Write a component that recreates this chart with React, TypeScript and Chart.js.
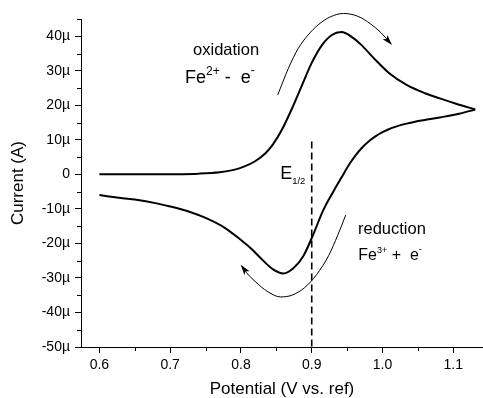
import { useEffect, useRef } from 'react';
import { Chart, registerables } from 'chart.js';

Chart.register(...registerables);

const FONT = '"Liberation Sans", Arial, Helvetica, sans-serif';

// Forward (oxidation) scan: potential (V) and current (µA)
const forwardPotential = [0.6, 0.65, 0.7, 0.74, 0.77, 0.79, 0.805, 0.82, 0.835, 0.845, 0.858, 0.872, 0.886, 0.9, 0.914, 0.928, 0.942, 0.956, 0.97, 0.987, 1.01, 1.034, 1.06, 1.081, 1.105, 1.131];
const forwardCurrent = [0, 0, 0.05, 0.2, 0.6, 1.3, 2.3, 3.8, 6.2, 8.6, 13.0, 19.0, 25.7, 32.3, 37.3, 40.3, 41.2, 39.9, 37.5, 33.8, 29.2, 25.9, 23.5, 22.0, 20.4, 18.8];

// Reverse (reduction) scan
const reversePotential = [1.131, 1.105, 1.081, 1.055, 1.034, 1.02, 1.008, 0.998, 0.99, 0.982, 0.97, 0.962, 0.954, 0.942, 0.931, 0.916, 0.902, 0.888, 0.874, 0.86, 0.846, 0.83, 0.815, 0.8, 0.775, 0.75, 0.728, 0.7, 0.681, 0.65, 0.633, 0.6];
const reverseCurrent = [18.8, 17.4, 16.5, 15.6, 14.7, 13.9, 13.0, 12.0, 11.0, 9.8, 7.5, 5.5, 3.2, -0.9, -4.8, -10.5, -17.5, -23.7, -27.2, -28.7, -27.6, -24.7, -21.6, -19.0, -15.2, -12.6, -10.9, -9.3, -8.4, -7.3, -6.9, -6.0];

// Curved arrows
const oxArrowPotential = [0.852, 0.867, 0.881, 0.895, 0.909, 0.926, 0.945, 0.965, 0.983, 0.998, 1.012];
const oxArrowCurrent = [23.0, 30.7, 36.5, 40.4, 43.3, 45.6, 46.6, 45.8, 43.6, 41.0, 37.8];
const redArrowPotential = [0.948, 0.937, 0.924, 0.907, 0.89, 0.872, 0.856, 0.838, 0.82, 0.808, 0.801];
const redArrowCurrent = [-11.8, -17.5, -23.5, -29.0, -32.8, -35.0, -35.5, -34.0, -31.0, -28.5, -26.5];

// E1/2 marker
const halfWavePotential = [0.9, 0.9];
const halfWaveCurrent = [9.5, -50];

// Axes
const xTicks = [0.6, 0.7, 0.8, 0.9, 1.0, 1.1];
const xMinorTicks = [0.65, 0.75, 0.85, 0.95, 1.05];
const yTicks = [-50, -40, -30, -20, -10, 0, 10, 20, 30, 40];
const yMinorTicks = [-45, -35, -25, -15, -5, 5, 15, 25, 35, 45];

type Seg = { text: string; size: number; dy: number };
type Ann = { x: number; y: number; segs: Seg[] };

const annotations: Ann[] = [
  { x: 0.7323, y: 34.6, segs: [{ text: 'oxidation', size: 16.5, dy: 0 }] },
  {
    x: 0.7211, y: 26.4, segs: [
      { text: 'Fe', size: 18, dy: 0 },
      { text: '2+', size: 12, dy: -8.5 },
      { text: ' -  e', size: 18, dy: 0 },
      { text: '-', size: 12, dy: -9.5 },
    ],
  },
  { x: 0.8554, y: -1.36, segs: [{ text: 'E', size: 18, dy: 0 }, { text: '1/2', size: 9.5, dy: 5 }] },
  { x: 0.9654, y: -17.4, segs: [{ text: 'reduction', size: 16.5, dy: 0 }] },
  {
    x: 0.9658, y: -24.8, segs: [
      { text: 'Fe', size: 16, dy: 0 },
      { text: '3+', size: 9, dy: -6.5 },
      { text: ' +  e', size: 16, dy: 0 },
      { text: '-', size: 9, dy: -8 },
    ],
  },
];

const toPoints = (xs: number[], ys: number[]) => xs.map((x, i) => ({ x, y: ys[i] }));

const extrasPlugin = {
  id: 'extras',
  afterDatasetsDraw(chart: any) {
    const ctx = chart.ctx as CanvasRenderingContext2D;
    const xs = chart.scales.x;
    const ys = chart.scales.y;
    const area = chart.chartArea;
    ctx.save();
    // minor ticks
    ctx.strokeStyle = '#000';
    ctx.lineWidth = 1;
    ctx.beginPath();
    xMinorTicks.forEach((v) => {
      const px = Math.round(xs.getPixelForValue(v)) + 0.5;
      ctx.moveTo(px, area.bottom);
      ctx.lineTo(px, area.bottom + 4);
    });
    yMinorTicks.forEach((v) => {
      const py = Math.round(ys.getPixelForValue(v)) + 0.5;
      ctx.moveTo(area.left, py);
      ctx.lineTo(area.left - 4, py);
    });
    ctx.stroke();

    // arrowheads
    ctx.fillStyle = '#000';
    [2, 3].forEach((i) => {
      const pts = chart.getDatasetMeta(i).data;
      const n = pts.length;
      const tip = pts[n - 1];
      const prev = pts[n - 2];
      const a = Math.atan2(tip.y - prev.y, tip.x - prev.x);
      const L = 9;
      const W = 3.2;
      const bx = tip.x - L * Math.cos(a);
      const by = tip.y - L * Math.sin(a);
      const nx = -Math.sin(a);
      const ny = Math.cos(a);
      ctx.beginPath();
      ctx.moveTo(tip.x + 1.5 * Math.cos(a), tip.y + 1.5 * Math.sin(a));
      ctx.lineTo(bx + W * nx, by + W * ny);
      ctx.lineTo(bx + 2.5 * Math.cos(a), by + 2.5 * Math.sin(a));
      ctx.lineTo(bx - W * nx, by - W * ny);
      ctx.closePath();
      ctx.fill();
    });

    // text annotations
    ctx.fillStyle = '#000';
    ctx.textBaseline = 'alphabetic';
    ctx.textAlign = 'left';
    annotations.forEach((ann) => {
      let px = xs.getPixelForValue(ann.x);
      const py = ys.getPixelForValue(ann.y);
      ann.segs.forEach((s) => {
        ctx.font = `${s.size}px ${FONT}`;
        ctx.fillText(s.text, px, py + s.dy);
        px += ctx.measureText(s.text).width;
      });
    });
    ctx.restore();
  },
};

export default function App() {
  const ref = useRef<HTMLCanvasElement | null>(null);

  useEffect(() => {
    if (!ref.current) return;
    const line = (data: any[], width: number, extra: any = {}) => ({
      data,
      showLine: true,
      borderColor: '#000',
      backgroundColor: '#000',
      borderWidth: width,
      pointRadius: 0,
      pointHoverRadius: 0,
      cubicInterpolationMode: 'monotone',
      fill: false,
      ...extra,
    });
    const chart = new Chart(ref.current, {
      type: 'scatter',
      data: {
        datasets: [
          line(toPoints(forwardPotential, forwardCurrent), 2),
          line(toPoints(reversePotential, reverseCurrent), 2),
          line(toPoints(oxArrowPotential, oxArrowCurrent), 1, { clip: false }),
          line(toPoints(redArrowPotential, redArrowCurrent), 1, { clip: false }),
          line(toPoints(halfWavePotential, halfWaveCurrent), 1.6, { cubicInterpolationMode: 'default', tension: 0, borderDash: [7, 4] }),
        ],
      },
      options: {
        responsive: false,
        animation: false,
        events: [],
        layout: { padding: { top: 19, right: 0, left: 0, bottom: 0 } },
        plugins: { legend: { display: false }, tooltip: { enabled: false } },
        scales: {
          x: {
            type: 'linear',
            min: 0.574,
            max: 1.142,
            afterBuildTicks: (s: any) => { s.ticks = xTicks.map((v) => ({ value: v })); },
            afterFit: (s: any) => { s.height = 51; },
            ticks: {
              callback: (v: any) => Number(v).toFixed(1),
              font: { size: 14, family: FONT },
              color: '#000',
              padding: 4,
              maxRotation: 0,
              autoSkip: false,
            },
            grid: { drawOnChartArea: false, drawTicks: true, tickLength: 6, tickColor: '#000', tickWidth: 1 },
            border: { display: true, color: '#000', width: 1 },
            title: {
              display: true,
              text: 'Potential (V vs. ref)',
              font: { size: 17, family: FONT, lineHeight: 1 },
              color: '#000',
              padding: { top: 0, bottom: 0.5 },
            },
          },
          y: {
            type: 'linear',
            position: 'left',
            min: -50,
            max: 45,
            afterBuildTicks: (s: any) => { s.ticks = yTicks.map((v) => ({ value: v })); },
            afterFit: (s: any) => { s.width = 81; },
            ticks: {
              callback: (v: any) => (Number(v) === 0 ? '0' : `${v}µ`),
              font: { size: 14, family: FONT },
              color: '#000',
              padding: 5,
              autoSkip: false,
            },
            grid: { drawOnChartArea: false, drawTicks: true, tickLength: 6, tickColor: '#000', tickWidth: 1 },
            border: { display: true, color: '#000', width: 1 },
            title: {
              display: true,
              text: 'Current (A)',
              font: { size: 17, family: FONT },
              color: '#000',
              padding: { top: 8, bottom: 0 },
            },
          },
        },
      },
      plugins: [extrasPlugin],
    } as any);
    return () => chart.destroy();
  }, []);

  return (
    <div style={{ position: 'absolute', left: 0, top: 0, width: 483, height: 398, background: '#fff' }}>
      <canvas ref={ref} width={483} height={398} style={{ width: 483, height: 398, display: 'block' }} />
    </div>
  );
}
